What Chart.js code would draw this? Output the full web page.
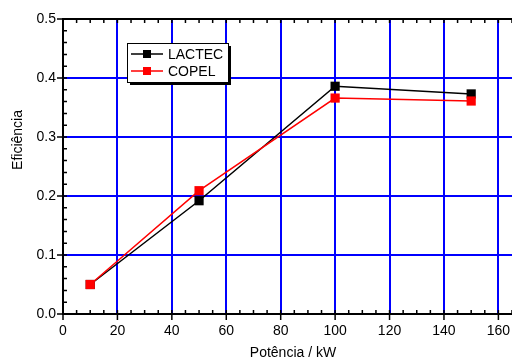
<!DOCTYPE html>
<html>
<head>
<meta charset="utf-8">
<script src="https://cdn.jsdelivr.net/npm/chart.js@4"></script>
<style>
  html, body { margin: 0; padding: 0; background: #fff; }
  #wrap { width: 512px; height: 358px; }
</style>
</head>
<body>
<div id="wrap"><canvas id="grafico" width="512" height="358"></canvas></div>
<script>
// dados
const potencia = [10, 50, 100, 150];
const lactec = [0.05, 0.192, 0.386, 0.373];
const copel = [0.05, 0.209, 0.366, 0.361];
const xTicks = [0, 20, 40, 60, 80, 100, 120, 140, 160];
const yTicks = [0.0, 0.1, 0.2, 0.3, 0.4, 0.5];
const nomes = ['LACTEC', 'COPEL'];
const cores = ['#000000', '#ff0000'];

const fonte = '"Liberation Sans", Arial, sans-serif';

function pontos(ys) {
    return potencia.map((x, i) => ({ x: x, y: ys[i] }));
}

// eixos, marcas menores, títulos e legenda
const extras = {
    id: 'extras',
    afterDraw(chart) {
        const ctx = chart.ctx;
        const a = chart.chartArea;
        const sx = chart.scales.x;
        const sy = chart.scales.y;
        ctx.save();
        ctx.strokeStyle = '#000';
        ctx.lineWidth = 2;
        // linha de cima
        ctx.beginPath();
        ctx.moveTo(a.left, a.top);
        ctx.lineTo(a.right, a.top);
        ctx.stroke();

        ctx.lineWidth = 1.5;
        ctx.beginPath();
        for (let v = 0; v <= 165; v += 5) {
            const px = sx.getPixelForValue(v);
            const maior = v % 20 === 0;
            // baixo
            ctx.moveTo(px, a.bottom + (maior ? 6 : 0));
            ctx.lineTo(px, a.bottom - 4);
            // cima
            ctx.moveTo(px, a.top);
            ctx.lineTo(px, a.top + 4);
        }
        for (let k = 0; k <= 25; k++) {
            const v = k * 0.02;
            const py = sy.getPixelForValue(v);
            const maior = k % 5 === 0;
            ctx.moveTo(a.left - (maior ? 6 : 0), py);
            ctx.lineTo(a.left + 4, py);
        }
        ctx.stroke();

        // títulos
        ctx.fillStyle = '#000';
        ctx.font = '14px ' + fonte;
        ctx.textAlign = 'center';
        ctx.textBaseline = 'middle';
        ctx.fillText('Potência / kW', 293, 353);
        ctx.save();
        ctx.translate(18, 140);
        ctx.rotate(-Math.PI / 2);
        ctx.fillText('Eficiência', 0, 0);
        ctx.restore();

        // legenda
        const lx = 127, ly = 43, lw = 101, lh = 39;
        ctx.fillStyle = '#000';
        ctx.fillRect(lx + 3, ly + 3, lw, lh);
        ctx.fillStyle = '#fff';
        ctx.fillRect(lx, ly, lw, lh);
        ctx.lineWidth = 1;
        ctx.strokeStyle = '#000';
        ctx.strokeRect(lx + 0.5, ly + 0.5, lw, lh);
        nomes.forEach((nome, i) => {
            const yy = 54 + i * 17;
            ctx.strokeStyle = cores[i];
            ctx.lineWidth = 1.5;
            ctx.beginPath();
            ctx.moveTo(131, yy);
            ctx.lineTo(163, yy);
            ctx.stroke();
            ctx.fillStyle = cores[i];
            ctx.fillRect(143, yy - 4, 8, 8);
            ctx.fillStyle = '#000';
            ctx.textAlign = 'left';
            ctx.fillText(nome, 168, yy + 1);
        });
        ctx.restore();
    }
};

const ctx = document.getElementById('grafico').getContext('2d');
window.chart = new Chart(ctx, {
    type: 'line',
    data: {
        datasets: [
            {
                label: nomes[0],
                data: pontos(lactec),
                borderColor: cores[0],
                backgroundColor: cores[0],
                borderWidth: 1.5,
                pointStyle: 'rect',
                pointRadius: 6.5,
                pointBorderWidth: 0,
                order: 1,
                fill: false
            },
            {
                label: nomes[1],
                data: pontos(copel),
                borderColor: cores[1],
                backgroundColor: cores[1],
                borderWidth: 1.5,
                pointStyle: 'rect',
                pointRadius: 6.5,
                pointBorderWidth: 0,
                order: 0,
                fill: false
            }
        ]
    },
    options: {
        responsive: false,
        animation: false,
        layout: { autoPadding: false, padding: { top: 19, right: 0, left: 0, bottom: 0 } },
        plugins: {
            legend: { display: false },
            tooltip: { enabled: false }
        },
        scales: {
            x: {
                type: 'linear',
                min: 0,
                max: 165,
                afterFit: s => { s.height = 44; s.paddingRight = 0; s.paddingLeft = 0; },
                afterBuildTicks: s => { s.ticks = xTicks.map(v => ({ value: v })); },
                grid: { color: '#0000ff', lineWidth: 2, drawTicks: false },
                border: { color: '#000', width: 2 },
                ticks: {
                    padding: 9,
                    color: '#000',
                    font: { family: fonte, size: 14 },
                    callback: v => String(v)
                }
            },
            y: {
                min: 0,
                max: 0.5,
                afterFit: s => { s.width = 63; s.paddingTop = 0; s.paddingBottom = 0; },
                afterBuildTicks: s => { s.ticks = yTicks.map(v => ({ value: v })); },
                grid: { color: '#0000ff', lineWidth: 2, drawTicks: false },
                border: { color: '#000', width: 2 },
                ticks: {
                    padding: 7,
                    color: '#000',
                    font: { family: fonte, size: 14 },
                    callback: v => v.toFixed(1)
                }
            }
        }
    },
    plugins: [extras]
});
</script>
</body>
</html>
